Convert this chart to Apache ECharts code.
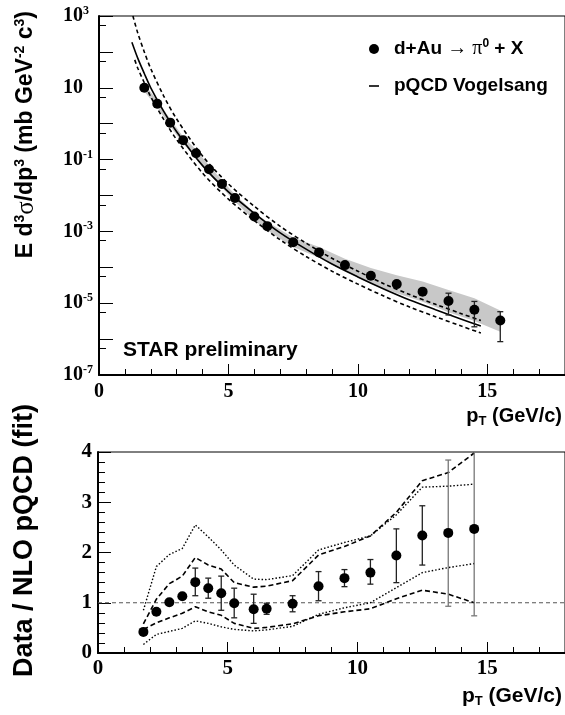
<!DOCTYPE html>
<html>
<head>
<meta charset="utf-8">
<script src="https://cdn.jsdelivr.net/npm/echarts@6/dist/echarts.min.js"></script>
<style>
html, body { margin: 0; padding: 0; background: #fff; }
#chart { width: 565px; height: 715px; }
</style>
</head>
<body>
<div id="chart"></div>
<script>
// ---- top panel: d+Au -> pi0 + X invariant cross section ----
var ptData = [1.75, 2.25, 2.75, 3.25, 3.75, 4.25, 4.75, 5.25, 6.0, 6.5, 7.5, 8.5, 9.5, 10.5, 11.5, 12.5, 13.5, 14.5, 15.5];
var xsec = [10, 3.6, 1.07, 0.345, 0.15, 0.054, 0.021, 0.0085, 0.0026, 0.0014, 5.0e-4, 2.6e-4, 1.15e-4, 5.8e-5, 3.4e-5, 2.1e-5, 1.15e-5, 6.6e-6, 3.3e-6];
// stat errors, only visible at high pT
var xsecErrLow = [null, null, null, null, null, null, null, null, null, null, null, null, null, null, null, null, 4.7e-6, 2.2e-6, 8.5e-7];
var xsecErrHigh = [null, null, null, null, null, null, null, null, null, null, null, null, null, null, null, null, 1.9e-5, 1.12e-5, 5.8e-6];
// systematic band (grey)
var sysLow = [7.9, 2.86, 0.85, 0.274, 0.119, 0.043, 0.0167, 0.0068, 0.00202, 0.00106, 3.7e-4, 1.84e-4, 7.6e-5, 3.5e-5, 1.9e-5, 1.1e-5, 5.6e-6, 3.2e-6, 1.6e-6];
var sysHigh = [12.6, 4.5, 1.35, 0.434, 0.189, 0.068, 0.0265, 0.0107, 0.00335, 0.00185, 6.8e-4, 3.7e-4, 1.74e-4, 9.6e-5, 6.0e-5, 4.0e-5, 2.34e-5, 1.38e-5, 6.3e-6];

// pQCD Vogelsang curve and scale variations
var pqcdPt = [1.27, 1.5, 1.75, 2, 2.5, 3, 4, 5, 6, 7, 8, 9, 10, 11, 12, 13, 14, 14.75];
var pqcdVal = [186, 66, 25, 10, 2.2, 0.6, 0.068, 0.0126, 0.0032, 9.1e-4, 3.2e-4, 1.23e-4, 5.4e-5, 2.5e-5, 1.23e-5, 6.6e-6, 3.6e-6, 2.3e-6];
var pqcdUpPt = [1.31, 1.5, 1.75, 2, 2.5, 3, 4, 5, 6, 7, 8, 9, 10, 11, 12, 13, 14, 14.75];
var pqcdUpVal = [1000, 331, 100, 34, 5.9, 1.35, 0.126, 0.021, 0.005, 1.38e-3, 4.7e-4, 1.78e-4, 7.8e-5, 3.5e-5, 1.74e-5, 9.3e-6, 5.1e-6, 3.3e-6];
var pqcdLoPt = [1.38, 1.5, 1.75, 2, 2.5, 3, 4, 5, 6, 7, 8, 9, 10, 11, 12, 13, 14, 14.75];
var pqcdLoVal = [60, 35, 13.8, 5.6, 1.32, 0.36, 0.042, 0.0079, 0.002, 5.8e-4, 2.0e-4, 7.8e-5, 3.4e-5, 1.58e-5, 7.8e-6, 4.2e-6, 2.3e-6, 1.48e-6];

// ---- bottom panel: data / NLO pQCD ----
var ratioPt = [1.75, 2.25, 2.75, 3.25, 3.75, 4.25, 4.75, 5.25, 6.0, 6.5, 7.5, 8.5, 9.5, 10.5, 11.5, 12.5, 13.5, 14.5];
var ratio = [0.42, 0.82, 1.01, 1.13, 1.41, 1.29, 1.19, 0.99, 0.87, 0.88, 0.98, 1.33, 1.49, 1.6, 1.94, 2.34, 2.39, 2.47];
var ratioLow = [null, null, null, null, 1.14, 1.09, 0.85, 0.70, 0.59, 0.77, 0.82, 1.04, 1.32, 1.37, 1.40, 1.75, 0.93, 0.74];
var ratioHigh = [null, null, null, null, 1.69, 1.49, 1.53, 1.29, 1.17, 0.99, 1.14, 1.62, 1.66, 1.86, 2.47, 2.93, 3.84, 4.3];
var dashUp = [0.58, 1.07, 1.38, 1.53, 1.9, 1.75, 1.67, 1.4, 1.31, 1.33, 1.44, 1.95, 2.12, 2.33, 2.8, 3.43, 3.59, 3.98];
var dashLo = [0.47, 0.6, 0.7, 0.79, 0.92, 0.82, 0.75, 0.59, 0.49, 0.51, 0.58, 0.74, 0.82, 0.88, 1.08, 1.25, 1.17, 1.0];
var dotUp = [0.85, 1.72, 1.96, 2.08, 2.55, 2.31, 2.05, 1.75, 1.47, 1.46, 1.54, 2.05, 2.2, 2.33, 2.75, 3.3, 3.32, 3.36];
var dotLo = [0.17, 0.37, 0.43, 0.49, 0.64, 0.59, 0.52, 0.47, 0.44, 0.46, 0.53, 0.77, 0.9, 1.0, 1.3, 1.6, 1.7, 1.78];
var refLine = [[0, 1], [18, 1]];

// tick labels
var topYLabelExp = [3, 1, -1, -3, -5, -7];
var xLabelStep = 5;

function pairs(xs, ys) {
  return xs.map(function (x, i) { return [x, ys[i]]; });
}
function errTriples(xs, lo, hi) {
  var out = [];
  xs.forEach(function (x, i) { if (lo[i] != null) out.push([x, lo[i], hi[i]]); });
  return out;
}

var serif = 'Liberation Serif';
var sans = 'Liberation Sans';

function errorBarItem(params, api) {
  var x = api.value(0);
  var lo = api.coord([x, api.value(1)]);
  var hi = api.coord([x, api.value(2)]);
  var cap = 3;
  var color = (api.value(2) / api.value(1) > 2.5 && params.seriesName === 'ratioErr') ? '#777' : '#222';
  var st = { stroke: color, lineWidth: 1.3 };
  return {
    type: 'group',
    children: [
      { type: 'line', shape: { x1: lo[0], y1: lo[1], x2: hi[0], y2: hi[1] }, style: st },
      { type: 'line', shape: { x1: lo[0] - cap, y1: lo[1], x2: lo[0] + cap, y2: lo[1] }, style: st },
      { type: 'line', shape: { x1: hi[0] - cap, y1: hi[1], x2: hi[0] + cap, y2: hi[1] }, style: st }
    ]
  };
}

function bandItem(params, api) {
  var pts = [];
  for (var i = 0; i < ptData.length; i++) pts.push(api.coord([ptData[i], sysHigh[i]]));
  for (var j = ptData.length - 1; j >= 0; j--) pts.push(api.coord([ptData[j], sysLow[j]]));
  return { type: 'polygon', shape: { points: pts }, style: { fill: '#c8c8c8' } };
}

var tickLabel = { color: '#000', fontFamily: serif, fontWeight: 'bold', fontSize: 20 };

// x axis: short ticks every 1 GeV with labels every 5, plus an overlay axis carrying the long ticks
function xAxisMinor(gridIndex, fontSize, margin) {
  return {
    type: 'value', gridIndex: gridIndex, min: 0, max: 18, interval: 1, position: 'bottom',
    axisLine: { lineStyle: { color: '#000', width: 2 } },
    axisTick: { inside: true, length: 6, lineStyle: { color: '#000', width: 1 } },
    splitLine: { show: false },
    axisLabel: Object.assign({}, tickLabel, {
      fontSize: fontSize, margin: margin, showMaxLabel: false,
      formatter: function (v) { return v % xLabelStep === 0 ? String(v) : ''; }
    })
  };
}
function xAxisMajor(gridIndex) {
  return {
    type: 'value', gridIndex: gridIndex, min: 0, max: 18, interval: xLabelStep, position: 'bottom', offset: 0,
    axisLine: { show: false },
    axisTick: { inside: true, length: 11, lineStyle: { color: '#000', width: 1 } },
    splitLine: { show: false },
    axisLabel: { show: false }
  };
}

var myChart = echarts.init(document.getElementById('chart'), null, { renderer: 'canvas' });

var option = {
  animation: false,
  backgroundColor: '#fff',
  grid: [
    { left: 99, top: 16, right: 0, bottom: 340, show: true, borderColor: '#000', borderWidth: 1 },
    { left: 98, top: 452, right: 0, bottom: 62, show: true, borderColor: '#000', borderWidth: 1 }
  ],
  xAxis: [xAxisMinor(0, 20, 7), xAxisMinor(1, 21, 5), xAxisMajor(0), xAxisMajor(1)],
  yAxis: [
    {
      type: 'log', gridIndex: 0, min: 1e-7, max: 1e3, interval: 1, logBase: 10,
      axisLine: { lineStyle: { color: '#000', width: 2 } },
      axisTick: { inside: true, length: 14, lineStyle: { color: '#000', width: 1 } },
      minorTick: { show: true, splitNumber: 2, length: 7, lineStyle: { color: '#000', width: 1 } },
      splitLine: { show: false },
      axisLabel: Object.assign({}, tickLabel, {
        align: 'left', margin: 36, lineHeight: 22,
        formatter: function (v) {
          var e = Math.round(Math.log(v) / Math.LN10);
          if (topYLabelExp.indexOf(e) < 0) return '';
          return e === 1 ? '10' : '10{sup|' + e + '}';
        },
        rich: { sup: { fontFamily: serif, fontWeight: 'bold', fontSize: 12, color: '#000', verticalAlign: 'top', lineHeight: 12 } }
      })
    },
    {
      type: 'value', gridIndex: 1, min: 0, max: 4, interval: 1,
      axisLine: { lineStyle: { color: '#000', width: 2 } },
      axisTick: { inside: true, length: 13, lineStyle: { color: '#000', width: 1 } },
      minorTick: { show: true, splitNumber: 5, length: 7, lineStyle: { color: '#000', width: 1 } },
      splitLine: { show: false },
      axisLabel: Object.assign({}, tickLabel, { fontSize: 21, margin: 6 })
    }
  ],
  legend: {
    orient: 'vertical', left: 364, top: 33, itemGap: 15,
    itemWidth: 10, itemHeight: 10,
    data: [{ name: 'dAu', icon: 'circle' }, { name: 'pqcd', icon: 'path://M0,0H10V1.6H0Z' }],
    itemStyle: { opacity: 1 },
    textStyle: {
      color: '#000', fontFamily: sans, fontWeight: 'bold', fontSize: 19, lineHeight: 22, padding: [0, 0, 0, 10],
      rich: {
        b: { color: '#000', fontFamily: sans, fontWeight: 'bold', fontSize: 19, lineHeight: 22 },
        s: { color: '#000', fontFamily: serif, fontWeight: 'normal', fontSize: 20, lineHeight: 22 },
        sup: { color: '#000', fontFamily: sans, fontWeight: 'bold', fontSize: 12, lineHeight: 12, verticalAlign: 'top' }
      }
    },
    formatter: function (name) {
      if (name === 'dAu') return '{b|d+Au }{s|\u2192 \u03c0}{sup|0}{b| + X}';
      return '{b|pQCD Vogelsang}';
    }
  },
  graphic: [
    {
      type: 'text', x: 26, y: 11, rotation: Math.PI / 2,
      style: {
        text: 'E d{sup|3}{s|\u03c3}/dp{sup|3} (mb GeV{sup|-2} c{sup|3})',
        align: 'right', verticalAlign: 'middle',
        fontFamily: sans, fontWeight: 'bold', fontSize: 23, fill: '#000', lineHeight: 26,
        rich: {
          sup: { fontFamily: sans, fontWeight: 'bold', fontSize: 14, fill: '#000', verticalAlign: 'top', lineHeight: 14 },
          s: { fontFamily: serif, fontWeight: 'normal', fontSize: 25, fill: '#000', lineHeight: 26 }
        }
      }
    },
    {
      type: 'text', x: 25, y: 404, rotation: Math.PI / 2,
      style: {
        text: 'Data / NLO pQCD (fit)', align: 'right', verticalAlign: 'middle',
        fontFamily: sans, fontWeight: 'bold', fontSize: 27, fill: '#000'
      }
    },
    {
      type: 'text', x: 562, y: 416,
      style: {
        text: 'p{sub|T} (GeV/c)', align: 'right', verticalAlign: 'middle',
        fontFamily: sans, fontWeight: 'bold', fontSize: 20, fill: '#000', lineHeight: 24,
        rich: { sub: { fontFamily: sans, fontWeight: 'bold', fontSize: 13, fill: '#000', verticalAlign: 'bottom', lineHeight: 13 } }
      }
    },
    {
      type: 'text', x: 562, y: 696,
      style: {
        text: 'p{sub|T} (GeV/c)', align: 'right', verticalAlign: 'middle',
        fontFamily: sans, fontWeight: 'bold', fontSize: 21, fill: '#000', lineHeight: 24,
        rich: { sub: { fontFamily: sans, fontWeight: 'bold', fontSize: 13, fill: '#000', verticalAlign: 'bottom', lineHeight: 13 } }
      }
    },
    {
      type: 'text', x: 123, y: 350,
      style: {
        text: 'STAR preliminary', align: 'left', verticalAlign: 'middle',
        fontFamily: sans, fontWeight: 'bold', fontSize: 21, fill: '#000'
      }
    }
  ],
  series: [
    // top panel
    {
      name: 'sysBand', type: 'custom', xAxisIndex: 0, yAxisIndex: 0, clip: true,
      data: [[ptData[0], xsec[0]]], renderItem: bandItem, z: 1, silent: true
    },
    {
      name: 'pqcd', type: 'line', xAxisIndex: 0, yAxisIndex: 0, data: pairs(pqcdPt, pqcdVal),
      smooth: 0.3, symbol: 'none', clip: true, z: 3,
      itemStyle: { color: '#000' },
      lineStyle: { color: '#000', width: 1.6 }
    },
    {
      name: 'pqcdUp', type: 'line', xAxisIndex: 0, yAxisIndex: 0, data: pairs(pqcdUpPt, pqcdUpVal),
      smooth: 0.3, symbol: 'none', clip: true, z: 3,
      lineStyle: { color: '#000', width: 1.6, type: [4, 3] }
    },
    {
      name: 'pqcdLo', type: 'line', xAxisIndex: 0, yAxisIndex: 0, data: pairs(pqcdLoPt, pqcdLoVal),
      smooth: 0.3, symbol: 'none', clip: true, z: 3,
      lineStyle: { color: '#000', width: 1.6, type: [4, 3] }
    },
    {
      name: 'xsecErr', type: 'custom', xAxisIndex: 0, yAxisIndex: 0, clip: true,
      data: errTriples(ptData, xsecErrLow, xsecErrHigh), encode: { x: 0, y: [1, 2] },
      renderItem: errorBarItem, z: 4
    },
    {
      name: 'dAu', type: 'scatter', xAxisIndex: 0, yAxisIndex: 0, data: pairs(ptData, xsec),
      symbol: 'circle', symbolSize: 10, itemStyle: { color: '#000', opacity: 1 }, z: 5
    },
    // bottom panel
    {
      name: 'ref', type: 'line', xAxisIndex: 1, yAxisIndex: 1, data: refLine, symbol: 'none', z: 2,
      lineStyle: { color: '#555', width: 1, type: [4, 3] }
    },
    {
      name: 'dashUp', type: 'line', xAxisIndex: 1, yAxisIndex: 1, data: pairs(ratioPt, dashUp), symbol: 'none', clip: true, z: 3,
      lineStyle: { color: '#000', width: 1.6, type: [5, 3] }
    },
    {
      name: 'dashLo', type: 'line', xAxisIndex: 1, yAxisIndex: 1, data: pairs(ratioPt, dashLo), symbol: 'none', clip: true, z: 3,
      lineStyle: { color: '#000', width: 1.6, type: [5, 3] }
    },
    {
      name: 'dotUp', type: 'line', xAxisIndex: 1, yAxisIndex: 1, data: pairs(ratioPt, dotUp), symbol: 'none', clip: true, z: 3,
      lineStyle: { color: '#000', width: 1.4, type: [1.5, 2] }
    },
    {
      name: 'dotLo', type: 'line', xAxisIndex: 1, yAxisIndex: 1, data: pairs(ratioPt, dotLo), symbol: 'none', clip: true, z: 3,
      lineStyle: { color: '#000', width: 1.4, type: [1.5, 2] }
    },
    {
      name: 'ratioErr', type: 'custom', xAxisIndex: 1, yAxisIndex: 1, clip: true,
      data: errTriples(ratioPt, ratioLow, ratioHigh), encode: { x: 0, y: [1, 2] },
      renderItem: errorBarItem, z: 4
    },
    {
      name: 'ratio', type: 'scatter', xAxisIndex: 1, yAxisIndex: 1, data: pairs(ratioPt, ratio),
      symbol: 'circle', symbolSize: 10, itemStyle: { color: '#000', opacity: 1 }, z: 5
    }
  ]
};

myChart.setOption(option);
</script>
</body>
</html>
